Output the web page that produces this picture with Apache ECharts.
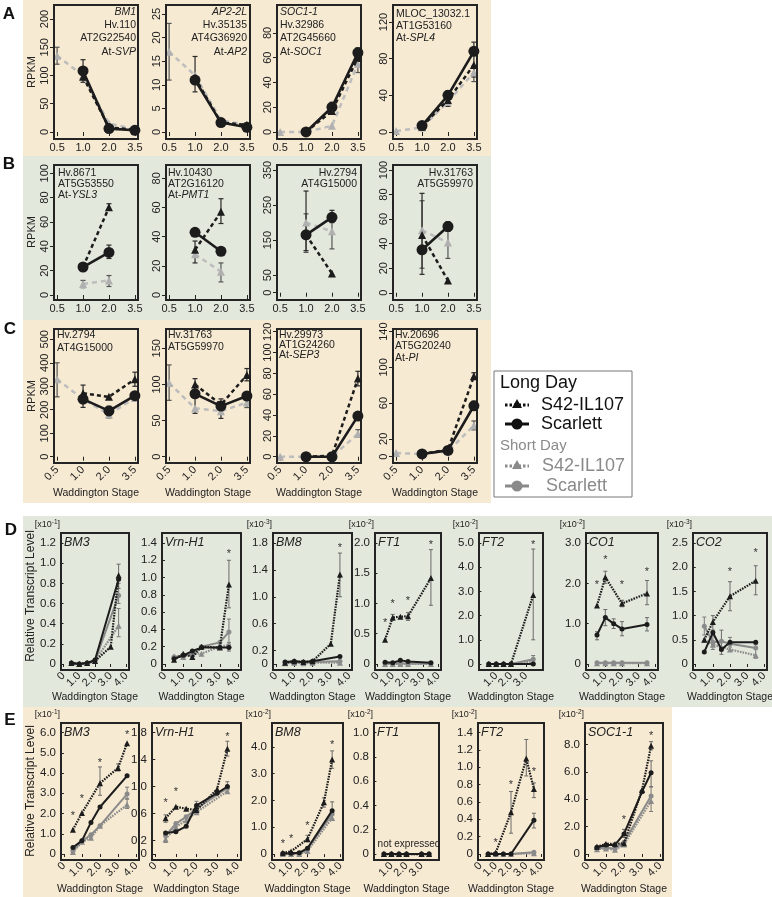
<!DOCTYPE html>
<html>
<head>
<meta charset="utf-8">
<title>Expression across Waddington stages</title>
<script src="https://cdn.jsdelivr.net/npm/echarts@6.0.0/dist/echarts.min.js"></script>
<style>
html,body{margin:0;padding:0;background:#ffffff;}
#chart{width:772px;height:897px;}
</style>
</head>
<body>
<div id="chart"></div>
<script>
/* ====================== DATA ====================== */
// Rows A–C: RPKM at Waddington stages 0.5, 1.0, 2.0, 3.5 (evenly spaced categories)
const stageValsAC = [0.5, 1.0, 2.0, 3.5];
const stageLabelsAC = ['0.5', '1.0', '2.0', '3.5'];
// Rows D–E: stages sampled, continuous axis
const stagesDE = [0.5, 1.0, 1.5, 2.0, 3.0, 3.5];
const xTicksDE = [0, 1, 2, 3, 4];

// ---- A ----
const a1_ldS42 = [null, 98, 8, 4];
const a1_ldScar = [null, 108, 6, 3];
const a1_sd = [135, 100, 15, 5];
const a1_errK = [[1.0, 88, 128], [3.5, 0, 10]];
const a1_errG = [[0.5, 120, 150]];

const a2_ldS42 = [null, 11.5, 2, 1.5];
const a2_ldScar = [null, 11, 2, 1];
const a2_sd = [17, 12, 2.5, 1.5];
const a2_errK = [[1.0, 8.5, 16]];
const a2_errG = [[0.5, 11, 23]];

const a3_ldS42 = [null, 0, 17, 60];
const a3_ldScar = [null, 0, 20, 64];
const a3_sd = [0, 0, 5, 55];
const a3_errK = [[2.0, 16, 24], [3.5, 57, 68]];
const a3_errG = [[3.5, 48, 60]];

const a4_ldS42 = [null, 6, 35, 73];
const a4_ldScar = [null, 7, 40, 88];
const a4_sd = [1, 5, 33, 65];
const a4_errK = [[2.0, 28, 45], [3.5, 60, 98]];
const a4_errG = [[3.5, 55, 72]];

// ---- B ----
const b1_ldS42 = [null, 23, 72, null];
const b1_ldScar = [null, 23, 35, null];
const b1_sd = [null, 9, 12, null];
const b1_errK = [[2.0, 30, 41], [2.0, 70, 75]];
const b1_errG = [[1.0, 6, 12], [2.0, 7, 16]];

const b2_ldS42 = [null, 31, 57, null];
const b2_ldScar = [null, 43, 30, null];
const b2_sd = [null, 28, 16, null];
const b2_errK = [[1.0, 22, 37], [2.0, 49, 66]];
const b2_errG = [[2.0, 9, 22]];

const b3_ldS42 = [null, 165, 55, null];
const b3_ldScar = [null, 165, 215, null];
const b3_sd = [null, 200, 175, null];
const b3_errK = [[1.0, 120, 290], [2.0, 200, 235]];
const b3_errG = [[1.0, 115, 225], [2.0, 125, 215]];

const b4_ldS42 = [null, 47, 10, null];
const b4_ldScar = [null, 35, 54, null];
const b4_sd = [null, 51, 41, null];
const b4_errK = [[1.0, 15, 81], [2.0, 50, 58]];
const b4_errG = [[1.0, 20, 75], [2.0, 28, 55]];

// ---- C ----
const c1_ldS42 = [null, 270, 255, 330];
const c1_ldScar = [null, 245, 195, 260];
const c1_sd = [330, 245, 180, 250];
const c1_errK = [[1.0, 210, 305], [2.0, 175, 215], [3.5, 300, 360]];
const c1_errG = [[0.5, 255, 400], [2.0, 165, 200]];

const c2_ldS42 = [null, 100, 72, 113];
const c2_ldScar = [null, 87, 70, 84];
const c2_sd = [102, 67, 63, 75];
const c2_errK = [[1.0, 60, 108], [2.0, 53, 80], [3.5, 105, 122]];
const c2_errG = [[0.5, 78, 127], [3.5, 68, 85]];

const c3_ldS42 = [null, 0, 1, 75];
const c3_ldScar = [null, 0, 0, 39];
const c3_sd = [0, 0, 0, 22];
const c3_errK = [[3.5, 68, 82]];
const c3_errG = [[3.5, 19, 26]];

const c4_ldS42 = [null, 3, 8, 90];
const c4_ldScar = [null, 3, 7, 57];
const c4_sd = [4, 3, 6, 35];
const c4_errK = [[3.5, 87, 94], [3.5, 52, 62]];
const c4_errG = [[3.5, 30, 40]];

// ---- D (Long/short day qPCR) ----
const d1_ldS42 = [0.01, 0, 0.01, 0.03, 0.17, 0.88];
const d1_ldScar = [0.01, 0, 0.01, 0.04, null, 0.84];
const d1_sdS42 = [0.01, 0, 0.01, 0.03, null, 0.38];
const d1_sdScar = [0.01, 0, 0.01, 0.03, null, 0.68];
const d1_errK = [[3.5, 0.75, 0.99]];
const d1_errG = [[3.5, 0.27, 0.55], [3.5, 0.6, 0.8]];
const d1_stars = [];

const d2_ldS42 = [0.05, 0.12, 0.08, 0.2, 0.19, 0.92];
const d2_ldScar = [0.06, 0.1, 0.15, 0.19, 0.19, 0.19];
const d2_sdS42 = [0.09, 0.08, 0.12, 0.12, 0.2, 0.22];
const d2_sdScar = [0.08, 0.09, 0.12, 0.2, 0.25, 0.37];
const d2_errK = [[3.5, 0.65, 1.2], [3.5, 0.15, 0.23]];
const d2_errG = [[3.5, 0.25, 0.52]];
const d2_stars = [[3.5, 1.27]];

const d3_ldS42 = [0.02, 0.04, 0.03, 0.04, 0.3, 1.33];
const d3_ldScar = [0.03, 0.04, 0.03, 0.04, null, 0.11];
const d3_sdS42 = [0.01, 0.02, 0.01, 0.02, null, 0.02];
const d3_sdScar = [0.02, 0.03, 0.02, 0.03, null, 0.04];
const d3_errK = [[3.5, 1.0, 1.65]];
const d3_errG = [];
const d3_stars = [[3.5, 1.73]];

const d4_ldS42 = [0.4, 0.77, 0.78, 0.79, null, 1.42];
const d4_ldScar = [0.03, 0.02, 0.06, 0.04, null, 0.02];
const d4_sdS42 = [0, 0, 0, 0, null, 0];
const d4_sdScar = [0.01, 0.01, 0.01, 0.01, null, 0.01];
const d4_errK = [[3.5, 0.97, 1.89], [1.0, 0.72, 0.82], [2.0, 0.72, 0.85]];
const d4_errG = [];
const d4_stars = [[0.5, 0.68], [1.0, 0.99], [2.0, 1.04], [3.5, 1.96]];

const d5_ldS42 = [0, 0, 0, 0, null, 2.85];
const d5_ldScar = [0, 0, 0, 0, null, 0];
const d5_sdS42 = [0, 0, 0, 0, null, 0.1];
const d5_sdScar = [0, 0, 0, 0, null, 0.2];
const d5_errK = [[3.5, 1.0, 4.75]];
const d5_errG = [[3.5, 0.0, 0.35]];
const d5_stars = [[3.5, 4.9]];

const d6_ldS42 = [1.45, 2.15, null, 1.5, null, 1.75];
const d6_ldScar = [0.72, 1.15, 1.0, 0.87, null, 0.98];
const d6_sdS42 = [0.02, 0.02, 0.02, 0.02, null, 0.02];
const d6_sdScar = [0.03, 0.03, 0.03, 0.03, null, 0.03];
const d6_errK = [[0.5, 0.6, 0.8], [1.0, 0.95, 1.35], [1.0, 2.0, 2.3], [1.5, 0.88, 1.12], [2.0, 0.7, 1.05], [2.0, 1.42, 1.58], [3.5, 0.82, 1.15], [3.5, 1.47, 2.07]];
const d6_errG = [];
const d6_stars = [[0.5, 1.97], [1.0, 2.59], [2.0, 1.95], [3.5, 2.27]];

const d7_ldS42 = [0.5, 0.87, null, 1.4, null, 1.72];
const d7_ldScar = [0.25, 0.65, 0.3, 0.45, null, 0.45];
const d7_sdS42 = [0.5, 0.4, null, 0.3, null, 0.18];
const d7_sdScar = [0.78, 0.45, 0.47, 0.42, null, 0.33];
const d7_errK = [[1.0, 0.7, 1.0], [2.0, 1.1, 1.7], [3.5, 1.43, 2.03], [1.5, 0.2, 0.7]];
const d7_errG = [[0.5, 0.6, 0.97], [1.0, 0.3, 0.6], [2.0, 0.35, 0.55], [3.5, 0.12, 0.4]];
const d7_stars = [[2.0, 1.9], [3.5, 2.3]];

// ---- E ----
const e1_ldS42 = [1.2, 2.02, null, 3.5, 4.25, 5.47];
const e1_ldScar = [0.32, 0.66, 1.56, 2.32, null, 3.86];
const e1_sdS42 = [0.1, 0.6, 0.8, 1.4, null, 2.43];
const e1_sdScar = [0.15, 0.65, 0.95, 1.4, null, 2.96];
const e1_errK = [[2.0, 2.9, 4.3], [3.0, 4.1, 4.45]];
const e1_errG = [[3.5, 2.25, 2.7], [3.5, 2.75, 3.3]];
const e1_stars = [[0.5, 1.86], [1.0, 2.72], [2.0, 4.5], [3.5, 5.86]];

const e2_ldS42 = [0.53, 0.7, 0.67, 0.65, 0.96, 1.56];
const e2_ldScar = [0.31, 0.33, 0.41, 0.72, 0.9, 1.0];
const e2_sdS42 = [0.22, 0.4, 0.5, 0.62, null, 0.93];
const e2_sdScar = [0.27, 0.45, 0.55, 0.67, null, 0.98];
const e2_errK = [[3.5, 1.45, 1.67], [0.5, 0.47, 0.58], [3.5, 0.95, 1.07]];
const e2_errG = [[0.5, 0.17, 0.33], [2.0, 0.6, 0.78]];
const e2_stars = [[0.5, 0.75], [1.0, 0.92], [3.5, 1.74]];

const e3_ldS42 = [0.05, 0.1, null, 0.56, 1.93, 3.53];
const e3_ldScar = [0.02, 0.03, 0.05, 0.22, null, 1.62];
const e3_sdS42 = [0.0, 0.0, 0.0, 0.12, null, 1.35];
const e3_sdScar = [0.01, 0.02, 0.02, 0.18, null, 1.5];
const e3_errK = [[3.5, 3.2, 3.85], [3.0, 1.75, 2.1], [3.5, 1.3, 1.95], [2.0, 0.45, 0.7]];
const e3_errG = [[3.5, 1.25, 1.65]];
const e3_stars = [[0.5, 0.37], [1.0, 0.58], [2.0, 1.04], [3.5, 4.07]];

const e4_ldS42 = [0, 0, 0, 0, 0, 0];
const e4_ldScar = [0, 0, 0, 0, 0, 0];
const e4_sdS42 = [0, 0, 0, 0, 0, 0];
const e4_sdScar = [0, 0, 0, 0, 0, 0];
const e4_errK = [];
const e4_errG = [];
const e4_stars = [];

const e5_ldS42 = [0.0, 0.015, null, 0.48, 1.1, 0.75];
const e5_ldScar = [0, 0, 0, 0, null, 0.39];
const e5_sdS42 = [0, 0, 0, 0, null, 0.01];
const e5_sdScar = [0, 0, 0, 0, null, 0.02];
const e5_errK = [[2.0, 0.24, 0.72], [3.0, 0.9, 1.32], [3.5, 0.65, 0.82], [3.5, 0.3, 0.47]];
const e5_errG = [];
const e5_stars = [[1.0, 0.13], [2.0, 0.8], [3.5, 0.95]];

const e6_ldS42 = [0.53, 0.73, 0.73, 0.78, 4.67, 7.9];
const e6_ldScar = [0.49, 0.66, 0.66, 1.46, 4.55, 5.93];
const e6_sdS42 = [0.35, 0.4, 0.3, 0.7, null, 3.87];
const e6_sdScar = [0.42, 0.48, 0.38, 0.85, null, 4.23];
const e6_errK = [[3.5, 4.9, 6.8], [3.5, 7.6, 8.2], [2.0, 1.2, 1.8]];
const e6_errG = [[3.5, 3.1, 4.9]];
const e6_stars = [[2.0, 2.5], [3.5, 8.6]];

/* ====================== LAYOUT / STYLE ====================== */
const FONT = '"Liberation Sans", Arial, Helvetica, sans-serif';
const BLACK = '#1c1c1c';
const LGRAY = '#bdbdbd';
const MGRAY = '#8a8a8a';
const BEIGE = '#f7ead3';
const GREEN = '#e3e8dc';

const panelsAC = [
  {row:'A', box:[54,5,84,134], y:[-12.4,224.8], ticks:[0,50,100,150,200],
   d:[a1_ldS42,a1_ldScar,a1_sd,a1_errK,a1_errG],
   gene:{lines:['{i|BM1}','Hv.110','AT2G22540','At-{i|SVP}'], align:'right', x:136, y0:12, dy:13.3}},
  {row:'A', box:[166,5,84,134], y:[-1.48,26.9], ticks:[0,5,10,15,20,25],
   d:[a2_ldS42,a2_ldScar,a2_sd,a2_errK,a2_errG],
   gene:{lines:['{i|AP2-2L}','Hv.35135','AT4G36920','At-{i|AP2}'], align:'right', x:247, y0:12, dy:13.3}},
  {row:'A', box:[277,5,84,134], y:[-5.7,102.6], ticks:[0,20,40,60,80],
   d:[a3_ldS42,a3_ldScar,a3_sd,a3_errK,a3_errG],
   gene:{lines:['{i|SOC1-1}','Hv.32986','AT2G45660','At-{i|SOC1}'], align:'left', x:280, y0:12, dy:13.3}},
  {row:'A', box:[393,5,84,134], y:[-7.6,138.5], ticks:[0,40,80,120],
   d:[a4_ldS42,a4_ldScar,a4_sd,a4_errK,a4_errG],
   gene:{lines:['MLOC_13032.1','AT1G53160','At-{i|SPL4}'], align:'left', x:396, y0:14, dy:12}},
  {row:'B', box:[54,165,84,135], y:[-4.1,106.8], ticks:[0,20,40,60,80,100],
   d:[b1_ldS42,b1_ldScar,b1_sd,b1_errK,b1_errG],
   gene:{lines:['Hv.8671','AT5G53550','At-{i|YSL3}'], align:'left', x:58, y0:173, dy:11}},
  {row:'B', box:[166,165,84,135], y:[-3.4,89.1], ticks:[0,20,40,60,80],
   d:[b2_ldS42,b2_ldScar,b2_sd,b2_errK,b2_errG],
   gene:{lines:['Hv.10430','AT2G16120','At-{i|PMT1}'], align:'left', x:168, y0:173, dy:11}},
  {row:'B', box:[277,165,84,135], y:[-20.8,364.3], ticks:[0,50,150,250,350],
   d:[b3_ldS42,b3_ldScar,b3_sd,b3_errK,b3_errG],
   gene:{lines:['Hv.2794','AT4G15000'], align:'right', x:357, y0:173, dy:11}},
  {row:'B', box:[393,165,84,135], y:[-5.9,104.1], ticks:[0,20,40,60,80,100],
   d:[b4_ldS42,b4_ldScar,b4_sd,b4_errK,b4_errG],
   gene:{lines:['Hv.31763','AT5G59970'], align:'right', x:473, y0:173, dy:11}},
  {row:'C', box:[54,329,84,134], y:[-26.8,543.9], ticks:[0,100,200,300,400,500],
   d:[c1_ldS42,c1_ldScar,c1_sd,c1_errK,c1_errG],
   gene:{lines:['Hv.2794','AT4G15000'], align:'left', x:57, y0:335, dy:12.7}},
  {row:'C', box:[166,329,84,134], y:[-8.7,176.7], ticks:[0,50,100,150],
   d:[c2_ldS42,c2_ldScar,c2_sd,c2_errK,c2_errG],
   gene:{lines:['Hv.31763','AT5G59970'], align:'left', x:168, y0:335, dy:12.3}},
  {row:'C', box:[277,329,84,134], y:[-6.0,122.6], ticks:[0,20,40,60,80,100,120],
   d:[c3_ldS42,c3_ldScar,c3_sd,c3_errK,c3_errG],
   gene:{lines:['Hv.29973','AT1G24260','At-{i|SEP3}'], align:'left', x:279, y0:335, dy:10}},
  {row:'C', box:[393,329,84,134], y:[-7.1,143], ticks:[0,20,60,100,140],
   d:[c4_ldS42,c4_ldScar,c4_sd,c4_errK,c4_errG],
   gene:{lines:['Hv.20696','AT5G20240','At-{i|PI}'], align:'left', x:395, y0:335, dy:11.5}}
];

const panelsDE = [
  {row:'D', box:[61,533,68,137], top:1.2, ticks:[0,0.2,0.4,0.6,0.8,1.0,1.2], name:'BM3', scale:'-1',
   d:[d1_ldS42,d1_ldScar,d1_sdS42,d1_sdScar,d1_errK,d1_errG,d1_stars]},
  {row:'D', box:[162,533,79,137], top:1.4, ticks:[0,0.2,0.4,0.6,0.8,1.0,1.2,1.4], name:'Vrn-H1', scale:null,
   d:[d2_ldS42,d2_ldScar,d2_sdS42,d2_sdScar,d2_errK,d2_errG,d2_stars]},
  {row:'D', box:[273,533,79,137], top:1.8, ticks:[0,0.2,0.6,1.0,1.4,1.8], name:'BM8', scale:'-3',
   d:[d3_ldS42,d3_ldScar,d3_sdS42,d3_sdScar,d3_errK,d3_errG,d3_stars]},
  {row:'D', box:[375,533,66,137], top:2.0, ticks:[0,0.5,1.0,1.5,2.0], name:'FT1', scale:'-2',
   d:[d4_ldS42,d4_ldScar,d4_sdS42,d4_sdScar,d4_errK,d4_errG,d4_stars]},
  {row:'D', box:[479,533,64,137], top:5.0, ticks:[0,1,2,3,4,5], name:'FT2', scale:'-2',
   d:[d5_ldS42,d5_ldScar,d5_sdS42,d5_sdScar,d5_errK,d5_errG,d5_stars]},
  {row:'D', box:[586,533,72,137], top:3.0, ticks:[0,1,2,3], name:'CO1', scale:'-2',
   d:[d6_ldS42,d6_ldScar,d6_sdS42,d6_sdScar,d6_errK,d6_errG,d6_stars]},
  {row:'D', box:[693,533,74,137], top:2.5, ticks:[0,0.5,1.0,1.5,2.0,2.5], name:'CO2', scale:'-3',
   d:[d7_ldS42,d7_ldScar,d7_sdS42,d7_sdScar,d7_errK,d7_errG,d7_stars]},
  {row:'E', box:[61,723,78,137], y:[-0.296,6.47], ticks:[0,1,2,3,4,5,6], name:'BM3', scale:'-1',
   d:[e1_ldS42,e1_ldScar,e1_sdS42,e1_sdScar,e1_errK,e1_errG,e1_stars]},
  {row:'E', box:[152,723,89,137], y:[-0.089,1.94], ticks:[0,0.2,0.6,1.0,1.4,1.8], name:'Vrn-H1', scale:null,
   d:[e2_ldS42,e2_ldScar,e2_sdS42,e2_sdScar,e2_errK,e2_errG,e2_stars]},
  {row:'E', box:[272,723,71,137], y:[-0.22,4.89], ticks:[0,1,2,3,4], name:'BM8', scale:'-2',
   d:[e3_ldS42,e3_ldScar,e3_sdS42,e3_sdScar,e3_errK,e3_errG,e3_stars]},
  {row:'E', box:[374,723,65,137], y:[-0.049,1.078], ticks:[0,0.2,0.4,0.6,0.8,1.0], name:'FT1', scale:'-2',
   d:[e4_ldS42,e4_ldScar,e4_sdS42,e4_sdScar,e4_errK,e4_errG,e4_stars]},
  {row:'E', box:[478,723,66,137], y:[-0.069,1.51], ticks:[0,0.2,0.4,0.6,0.8,1.0,1.2,1.4], name:'FT2', scale:'-2',
   d:[e5_ldS42,e5_ldScar,e5_sdS42,e5_sdScar,e5_errK,e5_errG,e5_stars]},
  {row:'E', box:[585,723,78,137], y:[-0.44,9.56], ticks:[0,2,4,6,8], name:'SOC1-1', scale:'-2',
   d:[e6_ldS42,e6_ldScar,e6_sdS42,e6_sdScar,e6_errK,e6_errG,e6_stars]}
];

/* ====================== BUILD ====================== */
const option = {animation:false, backgroundColor:'#ffffff', grid:[], xAxis:[], yAxis:[], series:[], graphic:{elements:[]}};
const G = option.graphic.elements;
const fmtDec = v => (v === 0 ? '0' : v.toFixed(1));

function addGrid(box){
  const gi = option.grid.length;
  option.grid.push({left:box[0], top:box[1], width:box[2], height:box[3], show:true,
    borderColor:'#242424', borderWidth:2, backgroundColor:'transparent', containLabel:false, outerBoundsMode:'none', z:4});
  return gi;
}
function errSeries(gi, errs, color, cap, w){
  return {type:'custom', xAxisIndex:gi, yAxisIndex:gi, data:errs, encode:{x:0, y:[1,2]}, z:2, silent:true, clip:false,
    renderItem:(params, api) => {
      const x = api.value(0), a = api.coord([x, api.value(1)]), b = api.coord([x, api.value(2)]);
      const st = {stroke:color, lineWidth:w};
      return {type:'group', children:[
        {type:'line', shape:{x1:a[0], y1:a[1], x2:b[0], y2:b[1]}, style:st},
        {type:'line', shape:{x1:a[0]-cap, y1:a[1], x2:a[0]+cap, y2:a[1]}, style:st},
        {type:'line', shape:{x1:b[0]-cap, y1:b[1], x2:b[0]+cap, y2:b[1]}, style:st}]};
    }};
}
function starSeries(gi, stars){
  return {type:'custom', xAxisIndex:gi, yAxisIndex:gi, data:stars, encode:{x:0, y:1}, z:8, silent:true, clip:false,
    renderItem:(params, api) => {
      const c = api.coord([api.value(0), api.value(1)]);
      return {type:'text', x:c[0], y:c[1], style:{text:'*', fill:'#333', font:'11px ' + FONT, align:'center', verticalAlign:'middle'}};
    }};
}
function lineSeries(gi, xs, vals, st){
  return Object.assign({type:'line', xAxisIndex:gi, yAxisIndex:gi, connectNulls:true, showSymbol:true, silent:true,
    data: vals.map((v, i) => [xs[i], v == null ? '-' : v])}, st);
}
function txt(x, y, text, font, fill, align, extra){
  G.push(Object.assign({type:'text', x:x, y:y, z:100, silent:true,
    style:{text:text, font:font, fill:fill || '#222', align:align || 'left', verticalAlign:'middle'}}, extra || {}));
}

// backgrounds
[[23,0,468,156,BEIGE],[23,156,468,164,GREEN],[23,320,468,183,BEIGE],[23,516,749,191,GREEN],[23,707,649,190,BEIGE]]
  .forEach(r => G.push({type:'rect', z:-10, silent:true, shape:{x:r[0], y:r[1], width:r[2], height:r[3]}, style:{fill:r[4]}}));

const xposAC = stageLabelsAC.map((_, i) => i + 1);
const styAC = {
  s42:{symbol:'triangle', symbolSize:8, lineStyle:{color:BLACK, width:2.5, type:[4,3]}, itemStyle:{color:BLACK}, z:6},
  scar:{symbol:'circle', symbolSize:11, lineStyle:{color:BLACK, width:2.6}, itemStyle:{color:BLACK}, z:5},
  sd:{symbol:'triangle', symbolSize:8, lineStyle:{color:LGRAY, width:2.5, type:[5,4]}, itemStyle:{color:'#b0b0b0'}, z:3}
};
panelsAC.forEach(p => {
  const gi = addGrid(p.box);
  option.xAxis.push({gridIndex:gi, type:'value', min:0.88, max:4.12,
    axisLine:{show:false}, splitLine:{show:false},
    axisTick:{show:true, length:4, customValues:xposAC, lineStyle:{color:'#222', width:1}},
    axisLabel:{customValues:xposAC, formatter:v => stageLabelsAC[Math.round(v) - 1], rotate:p.row === 'C' ? 45 : 0,
      fontSize:11, fontFamily:FONT, color:'#222', margin:p.row === 'C' ? 5 : 3}});
  option.yAxis.push({gridIndex:gi, type:'value', min:p.y[0], max:p.y[1],
    axisLine:{show:false}, splitLine:{show:false},
    axisTick:{show:true, length:4, customValues:p.ticks, lineStyle:{color:'#222', width:1}},
    axisLabel:{customValues:p.ticks, rotate:90, fontSize:11, fontFamily:FONT, color:'#222', margin:4}});
  const toIdx = e => [stageValsAC.indexOf(e[0]) + 1, e[1], e[2]];
  option.series.push(lineSeries(gi, xposAC, p.d[2], styAC.sd));
  option.series.push(errSeries(gi, p.d[4].map(toIdx), '#555', 2.5, 1.2));
  option.series.push(errSeries(gi, p.d[3].map(toIdx), '#2a2a2a', 2.5, 1.2));
  option.series.push(lineSeries(gi, xposAC, p.d[0], styAC.s42));
  option.series.push(lineSeries(gi, xposAC, p.d[1], styAC.scar));
  // gene annotation
  p.gene.lines.forEach((ln, k) => {
    G.push({type:'text', x:p.gene.x, y:p.gene.y0 + k * p.gene.dy, z:100, silent:true,
      style:{text:ln, font:'10.5px ' + FONT, fill:'#222', align:p.gene.align, verticalAlign:'middle',
        rich:{i:{fontStyle:'italic', fontSize:10.5, fontFamily:FONT, fill:'#222'}}}});
  });
  if (p.row === 'C') txt(p.box[0] + p.box[2] / 2, 493, 'Waddington Stage', '10.5px ' + FONT, '#222', 'center');
});

const styDE = {
  s42:{symbol:'triangle', symbolSize:6, lineStyle:{color:BLACK, width:2.2, type:[1.6,1.1]}, itemStyle:{color:BLACK}, z:6},
  scar:{symbol:'circle', symbolSize:5, lineStyle:{color:BLACK, width:2}, itemStyle:{color:BLACK}, z:5},
  sdS42:{symbol:'triangle', symbolSize:6, lineStyle:{color:MGRAY, width:2.2, type:[1.6,1.1]}, itemStyle:{color:MGRAY}, z:3},
  sdScar:{symbol:'circle', symbolSize:5, lineStyle:{color:MGRAY, width:2}, itemStyle:{color:MGRAY}, z:4}
};
panelsDE.forEach(p => {
  const gi = addGrid(p.box);
  const yr = p.y || [-0.0496 * p.top, 1.0826 * p.top];
  option.xAxis.push({gridIndex:gi, type:'value', min:-0.16, max:4.16,
    axisLine:{show:false}, splitLine:{show:false},
    axisTick:{show:true, length:3, customValues:xTicksDE, lineStyle:{color:'#222', width:1}},
    axisLabel:{customValues:xTicksDE, formatter:fmtDec, rotate:45, fontSize:11, fontFamily:FONT, color:'#222', margin:4}});
  option.yAxis.push({gridIndex:gi, type:'value', min:yr[0], max:yr[1],
    axisLine:{show:false}, splitLine:{show:false},
    axisTick:{show:true, length:3, customValues:p.ticks, lineStyle:{color:'#222', width:1}},
    axisLabel:{customValues:p.ticks, formatter:fmtDec, fontSize:11.5, fontFamily:FONT, color:'#222', margin:5}});
  option.series.push(errSeries(gi, p.d[5], '#7a7a7a', 2, 1));
  option.series.push(errSeries(gi, p.d[4], '#6a6a6a', 2, 1));
  option.series.push(lineSeries(gi, stagesDE, p.d[2], styDE.sdS42));
  option.series.push(lineSeries(gi, stagesDE, p.d[3], styDE.sdScar));
  option.series.push(lineSeries(gi, stagesDE, p.d[1], styDE.scar));
  option.series.push(lineSeries(gi, stagesDE, p.d[0], styDE.s42));
  option.series.push(starSeries(gi, p.d[6]));
  txt(p.box[0] + 3, p.box[1] + 10, p.name, 'italic 12.5px ' + FONT, '#222', 'left');
  if (p.scale) {
    G.push({type:'text', x:p.box[0] - 1, y:p.box[1] - 8, z:100, silent:true,
      style:{text:'[x10{s|' + p.scale + '}]', font:'9px ' + FONT, fill:'#222', align:'right', verticalAlign:'middle',
        rich:{s:{fontSize:6.5, fontFamily:FONT, fill:'#222', padding:[0,0,5,0]}}}});
  }
  txt(p.box[0] + p.box[2] / 2, p.row === 'D' ? 697 : 889, 'Waddington Stage', '10.5px ' + FONT, '#222', 'center');
});
txt(409, 844, 'not expressed', '10px ' + FONT, '#222', 'center');

// axis titles and panel letters
[[72,'RPKM'],[232,'RPKM'],[396,'RPKM']].forEach(t => txt(32, t[0], t[1], '11px ' + FONT, '#222', 'center', {rotation:Math.PI / 2}));
[[596,'Relative Transcript Level'],[791,'Relative Transcript Level']].forEach(t => txt(31, t[0], t[1], '12px ' + FONT, '#222', 'center', {rotation:Math.PI / 2}));
[['A',9,14],['B',9,164],['C',10,329],['D',11,530],['E',10,720]].forEach(l => txt(l[1], l[2], l[0], 'bold 17px ' + FONT, '#111', 'center'));

// legend
G.push({type:'rect', z:90, silent:true, shape:{x:494, y:371, width:138, height:126}, style:{fill:'#ffffff', stroke:'#777', lineWidth:1}});
txt(500, 383, 'Long Day', '18px ' + FONT, '#111', 'left');
txt(500, 446, 'Short Day', '15px ' + FONT, '#8a8a8a', 'left');
function legItem(y, color, dashed, tri, label, tx){
  G.push({type:'line', z:101, silent:true, shape:{x1:505, y1:y, x2:529, y2:y},
    style:{stroke:color, lineWidth:3, lineDash:dashed ? [2.5,2] : null}});
  if (tri) G.push({type:'polygon', z:102, silent:true, shape:{points:[[517,y-6],[522,y+3],[512,y+3]]}, style:{fill:color}});
  else G.push({type:'circle', z:102, silent:true, shape:{cx:517, cy:y, r:5.5}, style:{fill:color}});
  txt(tx, y, label, '18px ' + FONT, color, 'left');
}
legItem(405, '#111', true, true, 'S42-IL107', 541);
legItem(424, '#111', false, false, 'Scarlett', 541);
legItem(466, '#8a8a8a', true, true, 'S42-IL107', 542);
legItem(486, '#8a8a8a', false, false, 'Scarlett', 546);

const chart = echarts.init(document.getElementById('chart'), null, {renderer:'canvas'});
chart.setOption(option);
</script>
</body>
</html>
